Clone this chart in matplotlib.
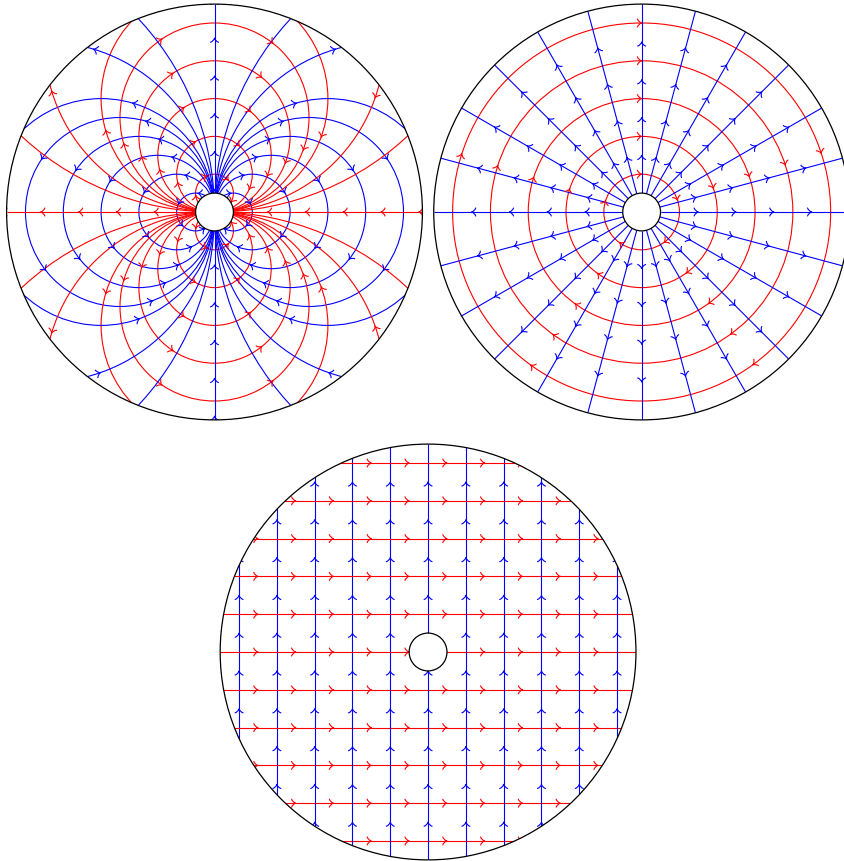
import numpy as np
import matplotlib
matplotlib.use("Agg")
import matplotlib.pyplot as plt
from matplotlib.path import Path
from matplotlib.patches import Circle
from matplotlib.collections import PathCollection

# ---------------- data ----------------
# dipole panel: diameters of the circular field lines through the centre
dipole_diameters = [1, 2, 3, 4, 5, 6, 9, 15]
dipole_mark_fractions = [0.0, 0.2, 0.4, 0.6, 0.8]
axis_marks = [-5.5, -4.5, -3.5, -2.5, -1.5, -0.5, 0.5, 1.5, 2.5, 3.5, 4.5, 5.5]

# source panel: concentric circles and radial lines
ring_radii = [1, 2, 3, 4, 5]
ring_mark_fractions = [0.0, 0.2, 0.4, 0.6, 0.8]
spoke_angles_deg = [0, 15, 30, 45, 60, 75, 90, 105, 120, 135, 150, 165,
                    180, 195, 210, 225, 240, 255, 270, 285, 300, 315, 330, 345]
spoke_marks = [1.5, 2.5, 3.5, 4.5]

# uniform panel: grid lines
grid_lines = [-5, -4, -3, -2, -1, 0, 1, 2, 3, 4, 5]
grid_marks = [-4.5, -3.5, -2.5, -1.5, -0.5, 0.5, 1.5, 2.5, 3.5, 4.5]

R_OUT = 5.5
R_IN = 0.5
CENTERS = [(0.0, 0.0), (11.3, 0.0), (5.65, -11.64)]

RED = "#ff0000"
BLUE = "#0000ff"
LW = 0.8
AL = 0.115   # arrow length
AW = 0.115   # arrow half width

# ---------------- figure ----------------
W_PX, H_PX = 845, 862
SCALE = 37.8  # px per unit
fig = plt.figure(figsize=(W_PX / 100, H_PX / 100), dpi=100)
ax = fig.add_axes([0, 0, 1, 1])
x0 = -214.5 / SCALE
y1 = 213.0 / SCALE
ax.set_xlim(x0, x0 + W_PX / SCALE)
ax.set_ylim(y1 - H_PX / SCALE, y1)
ax.set_aspect("equal")
ax.axis("off")


def arrow_path(tip, d):
    t = np.asarray(d, float)
    t = t / np.linalg.norm(t)
    n = np.array([-t[1], t[0]])
    p = np.asarray(tip, float)
    a1 = p - AL * t + AW * n
    c1 = p - 0.7 * AL * t + 0.15 * AW * n
    a2 = p - AL * t - AW * n
    c2 = p - 0.7 * AL * t - 0.15 * AW * n
    return Path([a1, c1, p, c2, a2],
                [Path.MOVETO, Path.CURVE3, Path.CURVE3, Path.CURVE3, Path.CURVE3])


def clip_circle(c):
    return Circle(c, R_OUT, transform=ax.transData)


def add_arrows(paths, color, c):
    if not paths:
        return
    pc = PathCollection(paths, facecolors="none", edgecolors=color,
                        linewidths=LW, zorder=3)
    ax.add_collection(pc)
    pc.set_clip_path(clip_circle(c))


def add_line(xs, ys, color, c):
    ln, = ax.plot(xs, ys, color=color, lw=LW, zorder=2, solid_capstyle="butt")
    ln.set_clip_path(clip_circle(c))


def add_ring(center, r, color, c):
    p = Circle(center, r, fill=False, edgecolor=color, lw=LW, zorder=2)
    ax.add_patch(p)
    p.set_clip_path(clip_circle(c))


def arc_arrows(center, r, theta0, s, fractions, off):
    paths = []
    for f in fractions:
        th = theta0 + 2 * np.pi * f + s * off / r
        tip = (center[0] + r * np.cos(th), center[1] + r * np.sin(th))
        d = (-s * np.sin(th), s * np.cos(th))
        paths.append(arrow_path(tip, d))
    return paths


# ---------------- panel 1: dipole ----------------
c = CENTERS[0]
red_paths, blue_paths = [], []
OFF1 = 0.1
for dia in dipole_diameters:
    r = dia / 2.0
    specs = [((c[0], c[1] + r), -np.pi / 2, -1, RED),
             ((c[0], c[1] - r), np.pi / 2, 1, RED),
             ((c[0] + r, c[1]), np.pi, -1, BLUE),
             ((c[0] - r, c[1]), 0.0, 1, BLUE)]
    for cc, th0, s, col in specs:
        add_ring(cc, r, col, c)
        ps = arc_arrows(cc, r, th0, s, dipole_mark_fractions, OFF1)
        (red_paths if col == RED else blue_paths).extend(ps)
add_line([c[0] - R_OUT, c[0] + R_OUT], [c[1], c[1]], RED, c)
add_line([c[0], c[0]], [c[1] - R_OUT, c[1] + R_OUT], BLUE, c)
for m in axis_marks:
    red_paths.append(arrow_path((c[0] + m - OFF1, c[1]), (-1, 0)))
    blue_paths.append(arrow_path((c[0], c[1] + m + OFF1), (0, 1)))
add_arrows(red_paths, RED, c)
add_arrows(blue_paths, BLUE, c)

# ---------------- panel 2: source + rings ----------------
c = CENTERS[1]
red_paths, blue_paths = [], []
for r in ring_radii:
    add_ring(c, r, RED, c)
    red_paths.extend(arc_arrows(c, r, np.pi / 2, -1,
                                [-f for f in ring_mark_fractions], 0.0))
for a in spoke_angles_deg:
    th = np.radians(a)
    u = np.array([np.cos(th), np.sin(th)])
    add_line([c[0] + R_IN * u[0], c[0] + R_OUT * u[0]],
             [c[1] + R_IN * u[1], c[1] + R_OUT * u[1]], BLUE, c)
    for m in spoke_marks:
        blue_paths.append(arrow_path((c[0] + m * u[0], c[1] + m * u[1]), u))
add_arrows(red_paths, RED, c)
add_arrows(blue_paths, BLUE, c)

# ---------------- panel 3: uniform grid ----------------
c = CENTERS[2]
red_paths, blue_paths = [], []
for k in grid_lines:
    add_line([c[0] - R_OUT, c[0] + R_OUT], [c[1] + k, c[1] + k], RED, c)
    add_line([c[0] + k, c[0] + k], [c[1] - R_OUT, c[1] + R_OUT], BLUE, c)
    for m in grid_marks:
        red_paths.append(arrow_path((c[0] + m, c[1] + k), (1, 0)))
        blue_paths.append(arrow_path((c[0] + k, c[1] + m), (0, 1)))
add_arrows(red_paths, RED, c)
add_arrows(blue_paths, BLUE, c)

# ---------------- boundaries ----------------
for c in CENTERS:
    ax.add_patch(Circle(c, R_IN, facecolor="white", edgecolor="black",
                        lw=0.9, zorder=5))
    ax.add_patch(Circle(c, R_OUT, fill=False, edgecolor="black",
                        lw=0.9, zorder=6))

fig.savefig("out.png", dpi=100)
